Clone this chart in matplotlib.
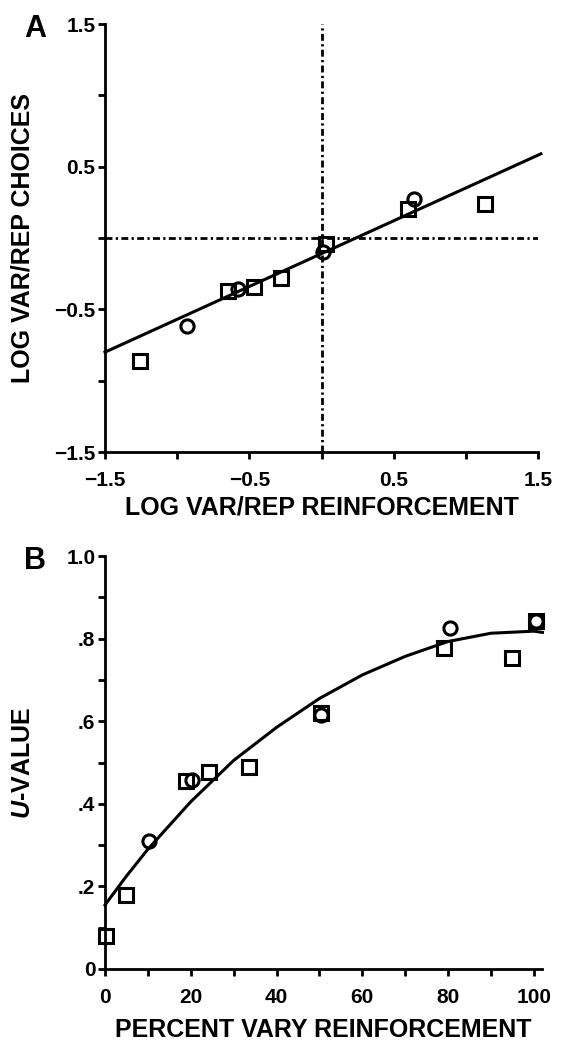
import matplotlib
matplotlib.use("Agg")
import matplotlib.pyplot as plt
from matplotlib.ticker import FixedLocator, MultipleLocator

plt.rcParams['font.family'] = ['Liberation Sans', 'DejaVu Sans']
plt.rcParams['font.weight'] = 'bold'
plt.rcParams['mathtext.fontset'] = 'custom'
plt.rcParams['mathtext.it'] = 'Liberation Sans:italic:bold'
plt.rcParams['mathtext.rm'] = 'Liberation Sans:bold'

# panel A: log ratio of choices vs log ratio of reinforcement
a_sq_x = [-1.26, -0.65, -0.47, -0.28, 0.03, 0.60, 1.13]
a_sq_y = [-0.86, -0.37, -0.34, -0.28, -0.04, 0.20, 0.24]
a_ci_x = [-0.93, -0.58, 0.01, 0.64]
a_ci_y = [-0.62, -0.36, -0.10, 0.27]
a_fit_x = [-1.5, 1.52]
a_fit_y = [-0.80, 0.59]
a_ticks = [-1.5, -0.5, 0.5, 1.5]
a_ticklabels = ['\u22121.5', '\u22120.5', '0.5', '1.5']

# panel B: U-value vs percent vary reinforcement
b_sq_x = [0.3, 4.9, 18.8, 24.2, 33.5, 50.4, 79.0, 94.9, 100.4]
b_sq_y = [0.08, 0.178, 0.455, 0.478, 0.488, 0.62, 0.777, 0.752, 0.843]
b_ci_x = [10.2, 20.3, 50.4, 80.5, 100.4]
b_ci_y = [0.31, 0.458, 0.616, 0.825, 0.843]
b_fit_x = [0, 5, 10, 20, 30, 40, 50, 60, 70, 80, 90, 100, 102]
b_fit_y = [0.155, 0.225, 0.29, 0.405, 0.505, 0.585, 0.655, 0.712, 0.757, 0.793, 0.813, 0.818, 0.815]
b_yticks = [0, 0.2, 0.4, 0.6, 0.8, 1.0]
b_yticklabels = ['0', '.2', '.4', '.6', '.8', '1.0']
b_xticks = [0, 20, 40, 60, 80, 100]
b_xticklabels = ['0', '20', '40', '60', '80', '100']

W, H = 568, 1044
fig = plt.figure(figsize=(W / 100, H / 100), dpi=100)


def box(l, t, r, b):
    return [l / W, 1 - b / H, (r - l) / W, (b - t) / H]


def style(ax):
    for s in ['top', 'right']:
        ax.spines[s].set_visible(False)
    for s in ['left', 'bottom']:
        ax.spines[s].set_linewidth(2.0)
    ax.tick_params(which='both', direction='out', width=2.0, length=5,
                   labelsize=15, colors='black')
    ax.tick_params(axis='x', which='both', pad=9)
    ax.tick_params(axis='y', which='both', pad=2)


mk = dict(linestyle='none', markersize=9.5, markeredgewidth=2.2,
          markerfacecolor='none', markeredgecolor='black', clip_on=False, zorder=4)

# ---- A ----
ax = fig.add_axes(box(105, 24, 538, 452))
ax.set_xlim(-1.5, 1.5)
ax.set_ylim(-1.5, 1.5)
style(ax)
ax.axvline(0, color='black', lw=2.0, linestyle=(0, (2.5, 1.2, 0.8, 1.2)), zorder=2)
ax.axhline(0, color='black', lw=2.0, linestyle=(0, (2.5, 1.2, 0.8, 1.2)), zorder=2)
ax.plot(a_fit_x, a_fit_y, color='black', lw=2.2, clip_on=False, zorder=3)
ax.plot(a_sq_x, a_sq_y, marker='s', **mk)
ax.plot(a_ci_x, a_ci_y, marker='o', **mk)
ax.xaxis.set_major_locator(FixedLocator(a_ticks))
ax.yaxis.set_major_locator(FixedLocator(a_ticks))
ax.set_xticklabels(a_ticklabels)
ax.set_yticklabels(a_ticklabels)
ax.xaxis.set_minor_locator(MultipleLocator(0.5))
ax.yaxis.set_minor_locator(MultipleLocator(0.5))
ax.set_xlabel('LOG VAR/REP REINFORCEMENT', fontsize=18, fontweight='bold')
ax.set_ylabel('LOG VAR/REP CHOICES', fontsize=18, fontweight='bold')
ax.xaxis.set_label_coords(0.5, -0.102)
ax.yaxis.set_label_coords(-0.162, 0.5)
fig.text(24 / W, 1 - 14 / H, 'A', fontsize=22, fontweight='bold',
         ha='left', va='top')

# ---- B ----
bx = fig.add_axes(box(105, 556, 542, 969))
bx.set_xlim(0, 101.9)
bx.set_ylim(0, 1.0)
style(bx)
bx.plot(b_fit_x, b_fit_y, color='black', lw=2.2, clip_on=False, zorder=3)
bx.plot(b_sq_x, b_sq_y, marker='s', **mk)
bx.plot(b_ci_x, b_ci_y, marker='o', **mk)
bx.xaxis.set_major_locator(FixedLocator(b_xticks))
bx.yaxis.set_major_locator(FixedLocator(b_yticks))
bx.set_xticklabels(b_xticklabels)
bx.set_yticklabels(b_yticklabels)
bx.xaxis.set_minor_locator(MultipleLocator(10))
bx.yaxis.set_minor_locator(MultipleLocator(0.1))
bx.set_xlabel('PERCENT VARY REINFORCEMENT', fontsize=18, fontweight='bold')
bx.set_ylabel(r'$\mathit{U}$-VALUE', fontsize=18, fontweight='bold')
bx.xaxis.set_label_coords(0.5, -0.118)
bx.yaxis.set_label_coords(-0.16, 0.5)
fig.text(24 / W, 1 - 546 / H, 'B', fontsize=22, fontweight='bold',
         ha='left', va='top')

fig.savefig('out.png', dpi=100, facecolor='white')
